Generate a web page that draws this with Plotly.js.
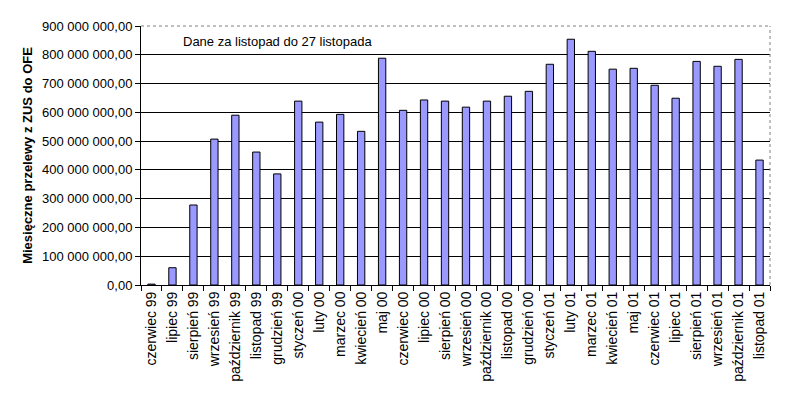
<!DOCTYPE html>
<html>
<head>
<meta charset="utf-8">
<script src="https://cdn.plot.ly/plotly-3.0.1.min.js"></script>
<style>
  html, body { margin: 0; padding: 0; background: #fff; }
  #chart { width: 799px; height: 401px; }
</style>
</head>
<body>
<div id="chart"></div>
<script>
// monthly transfers ZUS -> OFE
const months = [
    "czerwiec 99", "lipiec 99", "sierpień 99", "wrzesień 99", "październik 99",
    "listopad 99", "grudzień 99", "styczeń 00", "luty 00", "marzec 00",
    "kwiecień 00", "maj 00", "czerwiec 00", "lipiec 00", "sierpień 00",
    "wrzesień 00", "październik 00", "listopad 00", "grudzień 00", "styczeń 01",
    "luty 01", "marzec 01", "kwiecień 01", "maj 01", "czerwiec 01",
    "lipiec 01", "sierpień 01", "wrzesień 01", "październik 01", "listopad 01"
];
const transfers = [
    3e6, 60e6, 278e6, 507e6, 590e6,
    462e6, 386e6, 639e6, 566e6, 593e6,
    534e6, 788e6, 607e6, 643e6, 639e6,
    618e6, 639e6, 656e6, 673e6, 767e6,
    854e6, 812e6, 750e6, 753e6, 694e6,
    649e6, 777e6, 760e6, 784e6, 434e6
];
const yTicks = [0, 100e6, 200e6, 300e6, 400e6, 500e6, 600e6, 700e6, 800e6, 900e6];

let data = [{
    type: 'bar',
    x: months,
    y: transfers,
    width: 0.35,
    marker: {
        color: '#9999ff',
        line: { color: '#000000', width: 1 }
    },
    hoverinfo: 'none'
}];

let layout = {
    width: 799,
    height: 401,
    paper_bgcolor: '#ffffff',
    plot_bgcolor: '#ffffff',
    separators: ', ',
    showlegend: false,
    font: { family: 'Arial, Liberation Sans, sans-serif', size: 11, color: '#000' },
    margin: { l: 141, r: 29, t: 26, b: 116 },
    xaxis: {
        type: 'category',
        tickangle: -90,
        ticks: 'outside',
        tickson: 'boundaries',
        ticklen: 5,
        tickcolor: '#000',
        showline: true,
        linecolor: '#000',
        linewidth: 1,
        showgrid: false,
        tickfont: { size: 14 },
        range: [-0.5, 29.5]
    },
    yaxis: {
        range: [0, 900e6],
        tickvals: yTicks,
        tickformat: ',.2f',
        ticks: 'outside',
        ticklen: 5,
        tickcolor: '#000',
        showline: true,
        linecolor: '#000',
        linewidth: 1,
        showgrid: true,
        gridcolor: '#000',
        gridwidth: 1,
        zeroline: false,
        tickfont: { size: 13 },
        title: {
            text: '<b>Miesięczne przelewy z ZUS do OFE</b>',
            font: { size: 13 },
            standoff: 6
        }
    },
    shapes: [
        {
            type: 'line', xref: 'paper', yref: 'paper',
            x0: 0, x1: 1, y0: 1, y1: 1,
            line: { color: '#808080', width: 1, dash: 'dot' }
        },
        {
            type: 'line', xref: 'paper', yref: 'paper',
            x0: 1, x1: 1, y0: 0, y1: 1,
            line: { color: '#808080', width: 1, dash: 'dot' }
        }
    ],
    annotations: [{
        text: 'Dane za listopad do 27 listopada',
        xref: 'paper', yref: 'paper',
        x: 0.064, y: 0.94,
        xanchor: 'left', yanchor: 'middle',
        showarrow: false,
        font: { size: 13 }
    }]
};

Plotly.newPlot('chart', data, layout, { staticPlot: true, displayModeBar: false });
</script>
</body>
</html>
